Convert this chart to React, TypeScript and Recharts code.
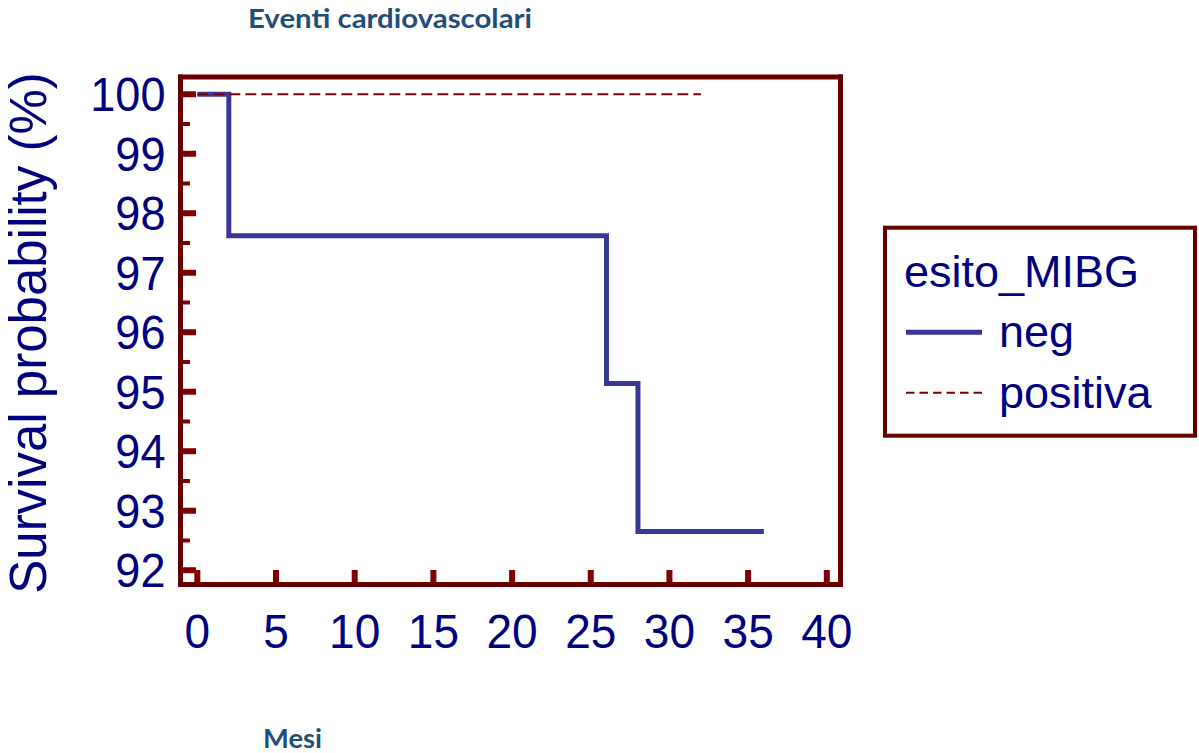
import { Line, LineChart, Legend, XAxis, YAxis } from "recharts";

// Kaplan-Meier estimates
const negMonths = [0, 2, 26, 28, 36];
const negSurvival = [100, 97.62, 95.14, 92.65, 92.65];
const posMonths = [0, 32];
const posSurvival = [100, 100];

const xTicks = [0, 5, 10, 15, 20, 25, 30, 35, 40];
const yTicks = [92, 92.5, 93, 93.5, 94, 94.5, 95, 95.5, 96, 96.5, 97, 97.5, 98, 98.5, 99, 99.5, 100];
const yLabels = [92, 93, 94, 95, 96, 97, 98, 99, 100];

const seriesNames = ["neg", "positiva"];
const seriesColors = ["#373799", "#800000"];
const seriesWidths = [5, 2];
const seriesDashes = [undefined, "11 5"];

const legendTitle = "esito_MIBG";
const chartTitle = "Eventi cardiovascolari";
const xTitle = "Mesi";
const yTitle = "Survival probability (%)";

const negData = negMonths.map((m, i) => ({ month: m, survival: negSurvival[i] }));
const posData = posMonths.map((m, i) => ({ month: m, survival: posSurvival[i] }));

const FRAME = "#660000";
const TICK = "#800000";
const NAVY = "#000080";
const HEAD = "#1F4E79";
const SANS = "'Liberation Sans', Arial, sans-serif";

const frameLine = { stroke: FRAME, strokeWidth: 5, strokeLinecap: "square" as const };

function YTick(props: any) {
  const { x, y, payload } = props;
  const major = yLabels.includes(payload.value);
  return (
    <g>
      <line
        x1={x + 2.5}
        x2={x + (major ? 15.5 : 9.5)}
        y1={y}
        y2={y}
        stroke={TICK}
        strokeWidth={major ? 6 : 4}
      />
      {major && (
        <text
          transform={`translate(${x - 15},${y + 17}) scale(0.92,1)`}
          textAnchor="end"
          fontFamily={SANS}
          fontSize={49}
          fill={NAVY}
        >
          {payload.value}
        </text>
      )}
    </g>
  );
}

function XTick(props: any) {
  const { x, y, payload } = props;
  return (
    <g>
      <line x1={x} x2={x} y1={y - 2.5} y2={y - 14.5} stroke={TICK} strokeWidth={6} />
      <text
        transform={`translate(${x},${y + 63.5}) scale(0.94,1)`}
        textAnchor="middle"
        fontFamily={SANS}
        fontSize={49}
        fill={NAVY}
      >
        {payload.value}
      </text>
    </g>
  );
}

function LegendBox({ payload }: any) {
  const items = payload || [];
  return (
    <svg width={319} height={230}>
      <rect x={5} y={7.7} width={310} height={208} fill="#fff" stroke={FRAME} strokeWidth={4} />
      <text x={24} y={66.7} fontFamily={SANS} fontSize={45} fill={NAVY}>
        {legendTitle}
      </text>
      {items.map((entry: any, i: number) => {
        const k = seriesNames.indexOf(entry.value);
        const ly = 112.3 + i * 60.4;
        return (
          <g key={entry.value}>
            <line
              x1={26}
              x2={102}
              y1={ly}
              y2={ly}
              stroke={entry.color}
              strokeWidth={seriesWidths[k]}
              strokeDasharray={k === 1 ? "8.5 5" : undefined}
            />
            <text x={119} y={126.7 + i * 61.3} fontFamily={SANS} fontSize={45} fill={NAVY}>
              {entry.value}
            </text>
          </g>
        );
      })}
    </svg>
  );
}

export default function App() {
  return (
    <div style={{ position: "absolute", left: 0, top: 0, width: 1199, height: 753, background: "#fff" }}>
      <LineChart width={1199} height={753} margin={{ top: 67, right: 348.5, bottom: 68.5, left: 80.5 }}>
        <XAxis
          xAxisId={0}
          dataKey="month"
          type="number"
          domain={[-1.07, 40.87]}
          allowDataOverflow
          ticks={xTicks}
          interval={0}
          tick={XTick}
          tickSize={0}
          tickMargin={0}
          tickLine={false}
          axisLine={frameLine}
          height={100}
          label={{
            value: xTitle,
            content: () => (
              <text x={263} y={748} textLength={59} lengthAdjust="spacingAndGlyphs" fontFamily="Lato, sans-serif" fontWeight={700} fontSize={27} fill={HEAD}>
                {xTitle}
              </text>
            ),
          }}
        />
        <XAxis
          xAxisId="top"
          orientation="top"
          dataKey="month"
          type="number"
          domain={[-1.07, 40.87]}
          tick={false}
          tickLine={false}
          axisLine={frameLine}
          height={10}
          label={{
            value: chartTitle,
            content: () => (
              <text x={248} y={28} textLength={284} lengthAdjust="spacingAndGlyphs" fontFamily="Lato, sans-serif" fontWeight={700} fontSize={27} fill={HEAD}>
                {chartTitle}
              </text>
            ),
          }}
        />
        <YAxis
          yAxisId={0}
          type="number"
          domain={[91.76, 100.29]}
          allowDataOverflow
          ticks={yTicks}
          interval={0}
          tick={YTick}
          tickSize={0}
          tickMargin={0}
          tickLine={false}
          axisLine={frameLine}
          width={100}
          label={{
            value: yTitle,
            content: () => (
              <text
                x={46}
                y={333}
                transform="rotate(-90, 46, 333)"
                textAnchor="middle"
                fontFamily={SANS}
                fontSize={51}
                fill={NAVY}
              >
                {yTitle}
              </text>
            ),
          }}
        />
        <YAxis
          yAxisId="right"
          orientation="right"
          type="number"
          domain={[91.76, 100.29]}
          tick={false}
          tickLine={false}
          axisLine={frameLine}
          width={10}
        />
        <Legend
          layout="vertical"
          align="center"
          verticalAlign="middle"
          content={LegendBox}
          wrapperStyle={{ left: 880, top: 220, width: 319, height: 230 }}
        />
        <Line
          data={negData}
          dataKey="survival"
          name={seriesNames[0]}
          type="stepAfter"
          stroke={seriesColors[0]}
          strokeWidth={seriesWidths[0]}
          dot={false}
          activeDot={false}
          isAnimationActive={false}
        />
        <Line
          data={posData}
          dataKey="survival"
          name={seriesNames[1]}
          type="stepAfter"
          stroke={seriesColors[1]}
          strokeWidth={seriesWidths[1]}
          strokeDasharray={seriesDashes[1]}
          dot={false}
          activeDot={false}
          isAnimationActive={false}
        />
      </LineChart>
    </div>
  );
}
